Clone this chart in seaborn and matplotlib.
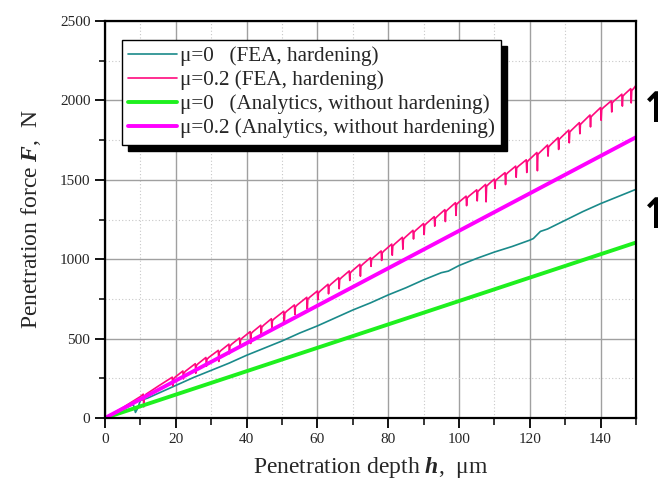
import matplotlib
matplotlib.use("Agg")
import matplotlib.pyplot as plt
from matplotlib.ticker import MultipleLocator
from matplotlib.patches import Rectangle
import seaborn as sns
import pandas as pd

# ---------------- data ----------------
teal_h = [0, 2, 5, 8, 8.6, 9.2, 10, 12, 15, 20, 25, 30, 35, 40, 45, 50, 55, 60, 65, 70,
          75, 80, 85, 90, 95, 97, 100, 105, 110, 115, 120, 121, 123, 125, 130, 135, 140, 145, 150]
teal_F = [0, 20, 55, 85, 35, 60, 110, 125, 155, 205, 255, 300, 345, 395, 440, 485, 535, 580, 630, 680,
          725, 775, 820, 870, 915, 925, 960, 1005, 1045, 1080, 1120, 1130, 1175, 1190, 1245, 1300, 1350, 1395, 1440]

pink_h = [0, 5, 10, 10.8, 15, 19, 22, 25.5, 28.5, 32, 35, 38, 41, 44, 47, 50.5, 53.5, 57, 60, 63,
          66, 69, 72, 75, 78, 81, 84, 87, 90, 93, 96, 99, 102, 105, 107.5, 110, 113, 116, 119, 122,
          125, 128, 131, 134, 137, 140, 143, 146, 148.5, 150]
pink_top = [0, 65, 135, 150, 200, 257, 296, 342, 381, 426, 465, 504, 544, 584, 625, 672, 712, 760, 800, 842,
            884, 926, 968, 1010, 1052, 1095, 1138, 1182, 1225, 1268, 1312, 1356, 1397, 1437, 1471, 1505, 1545, 1586, 1626, 1672,
            1719, 1766, 1813, 1860, 1908, 1955, 1997, 2039, 2074, 2095]
pink_dip = [0, 0, 0, 80, 0, 55, 50, 60, 55, 70, 60, 55, 75, 60, 55, 70, 60, 75, 55, 60,
            70, 60, 75, 55, 60, 70, 75, 55, 70, 60, 75, 80, 60, 70, 110, 60, 75, 70, 80, 115,
            70, 75, 80, 70, 75, 80, 70, 75, 90, 0]

ana_h = [0, 150]
green_F = [0, 1105]
magenta_F = [0, 1768]

labels = ["\u03bc=0   (FEA, hardening)",
          "\u03bc=0.2 (FEA, hardening)",
          "\u03bc=0   (Analytics, without hardening)",
          "\u03bc=0.2 (Analytics, without hardening)"]

# build pink polyline with dips at the listed positions
px, py = [], []
for h, t, d in zip(pink_h, pink_top, pink_dip):
    if d > 0:
        px += [h, h + 0.15, h + 0.3, h + 0.8]
        py += [t, t - d, t - 12, t]
    else:
        px.append(h)
        py.append(t)

df_teal = pd.DataFrame({"h": teal_h, "F": teal_F})
df_pink = pd.DataFrame({"h": px, "F": py})
df_green = pd.DataFrame({"h": ana_h, "F": green_F})
df_mag = pd.DataFrame({"h": ana_h, "F": magenta_F})

# ---------------- style ----------------
sns.set_style("white")
plt.rcParams["font.family"] = ["Liberation Serif", "DejaVu Serif"]
plt.rcParams["mathtext.fontset"] = "custom"
plt.rcParams["mathtext.rm"] = "Liberation Serif"
plt.rcParams["mathtext.it"] = "Liberation Serif:italic"
plt.rcParams["mathtext.bf"] = "Liberation Serif:bold:italic"

fig = plt.figure(figsize=(6.58, 4.92), dpi=100)
W, H = 658, 492
ax = fig.add_axes([105 / W, 1 - 418 / H, (636 - 105) / W, (418 - 21) / H])

c_teal = "#1a8a8a"
c_pink = "#ff0a7e"
c_green = "#1ef01e"
c_mag = "#ff00ff"

sns.lineplot(data=df_teal, x="h", y="F", ax=ax, color=c_teal, lw=1.2, sort=False, estimator=None, label=labels[0])
sns.lineplot(data=df_pink, x="h", y="F", ax=ax, color=c_pink, lw=1.2, sort=False, estimator=None, label=labels[1])
sns.lineplot(data=df_green, x="h", y="F", ax=ax, color=c_green, lw=2.8, sort=False, estimator=None, label=labels[2])
sns.lineplot(data=df_mag, x="h", y="F", ax=ax, color=c_mag, lw=2.8, sort=False, estimator=None, label=labels[3])

ax.set_xlim(0, 150)
ax.set_ylim(0, 2500)
ax.set_xticks(list(range(0, 141, 20)))
ax.set_yticks(list(range(0, 2501, 500)))
ax.xaxis.set_minor_locator(MultipleLocator(10))
ax.yaxis.set_minor_locator(MultipleLocator(250))
ax.tick_params(axis="both", which="major", direction="out", length=7, width=1.3,
               labelsize=11, color="black", bottom=True, left=True, top=False, right=False)
ax.tick_params(axis="x", which="minor", direction="out", length=5, width=1.3, bottom=True, top=False)
ax.tick_params(axis="y", which="minor", direction="out", length=4, width=1.3, left=True, right=False)
ax.tick_params(axis="x", which="major", pad=4)

ax.grid(which="major", color="#a0a0a0", lw=1.0, ls="-")
ax.grid(which="minor", color="#c8c8c8", lw=0.8, ls=(0, (1, 2)))
ax.set_axisbelow(True)
for s in ax.spines.values():
    s.set_visible(True)
    s.set_color("black")
    s.set_linewidth(1.6)

ax.set_xlabel("Penetration depth $\\mathbf{h}$,  \u03bcm", fontsize=17, labelpad=6)
ax.set_ylabel(r"Penetration force $\mathbf{F}$,  N", fontsize=17, labelpad=12)

leg = ax.legend(loc="upper left", bbox_to_anchor=(0.032, 0.952), fontsize=15.2, frameon=True,
                fancybox=False, edgecolor="black", framealpha=1, handlelength=2.3,
                handletextpad=0.15, labelspacing=0.2, borderpad=0.3, borderaxespad=0)
leg.get_frame().set_linewidth(1.0)
leg.set_zorder(10)

fig.canvas.draw()
bb = leg.get_window_extent()
shadow = Rectangle((bb.x0 + 6, bb.y0 - 6), bb.width, bb.height, transform=None,
                   facecolor="black", edgecolor="black", zorder=9)
fig.add_artist(shadow)
leg.remove()
fig.add_artist(leg)

# arrows on the right edge (from the slide)
fig.text(639 / W, 1 - 110 / H, "\u2191", fontsize=30, fontweight="bold", family="DejaVu Sans",
         ha="left", va="center", color="black")
fig.text(639 / W, 1 - 216 / H, "\u2191", fontsize=30, fontweight="bold", family="DejaVu Sans",
         ha="left", va="center", color="black")

fig.savefig("out.png", dpi=100, facecolor="white")
